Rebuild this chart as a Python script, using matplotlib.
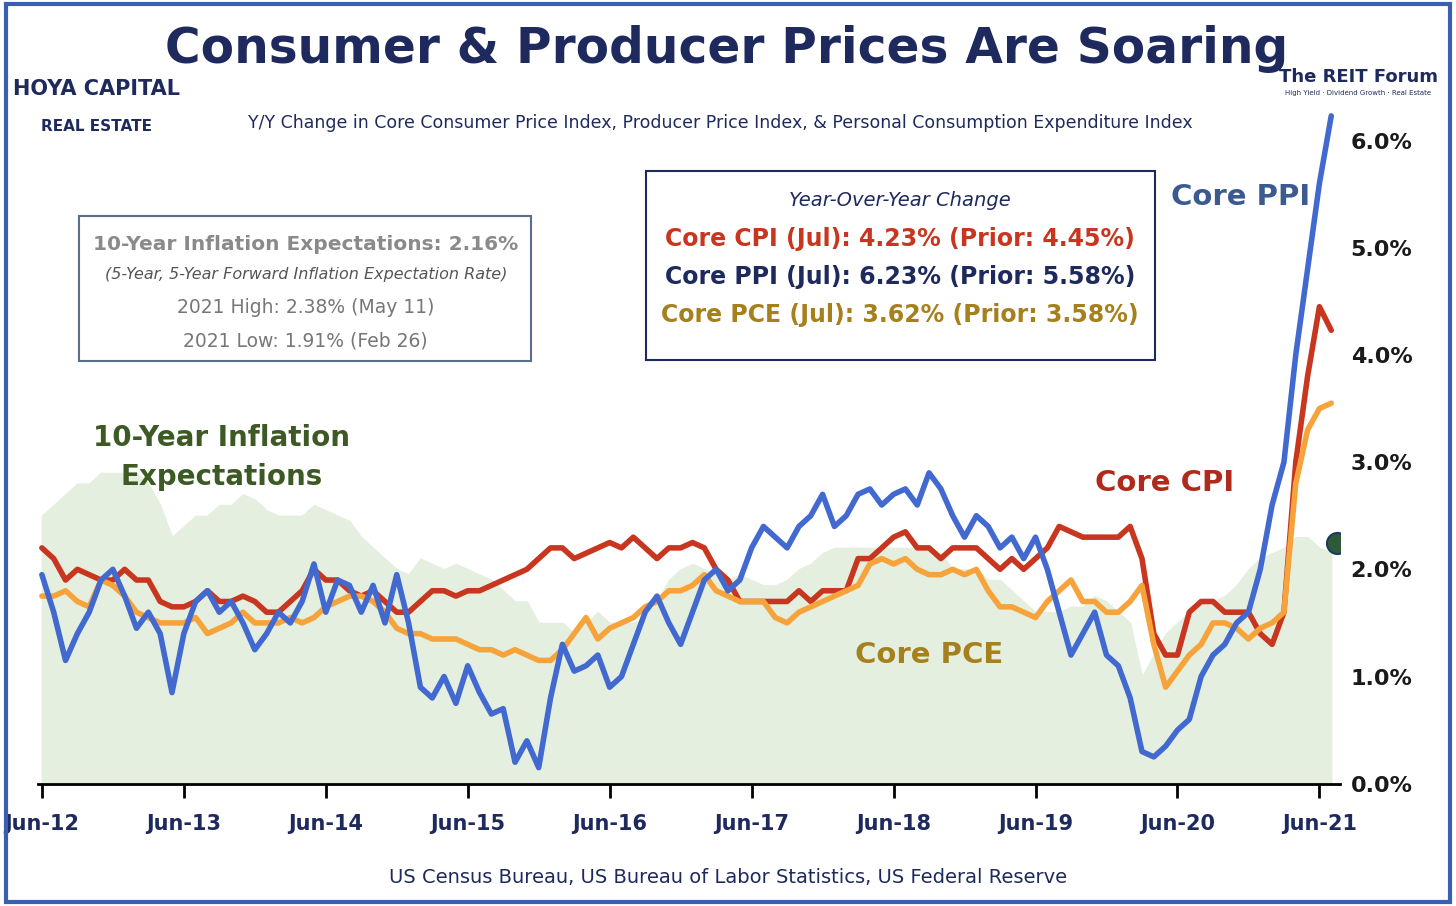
import numpy as np
import matplotlib.pyplot as plt
from matplotlib.patches import Rectangle

plt.rcParams['font.family'] = ['Liberation Sans Narrow', 'DejaVu Sans']

# monthly, Jun-12 .. Jul-21
core_ppi = [1.95, 1.6, 1.15, 1.4, 1.6, 1.9, 2.0, 1.75, 1.45, 1.6, 1.4, 0.85,
            1.4, 1.7, 1.8, 1.6, 1.7, 1.5, 1.25, 1.4, 1.6, 1.5, 1.7, 2.05,
            1.6, 1.9, 1.85, 1.6, 1.85, 1.5, 1.95, 1.5, 0.9, 0.8, 1.0, 0.75,
            1.1, 0.85, 0.65, 0.7, 0.2, 0.4, 0.15, 0.8, 1.3, 1.05, 1.1, 1.2,
            0.9, 1.0, 1.3, 1.6, 1.75, 1.5, 1.3, 1.6, 1.9, 2.0, 1.8, 1.9,
            2.2, 2.4, 2.3, 2.2, 2.4, 2.5, 2.7, 2.4, 2.5, 2.7, 2.75, 2.6,
            2.7, 2.75, 2.6, 2.9, 2.75, 2.5, 2.3, 2.5, 2.4, 2.2, 2.3, 2.1,
            2.3, 2.0, 1.6, 1.2, 1.4, 1.6, 1.2, 1.1, 0.8, 0.3, 0.25, 0.35,
            0.5, 0.6, 1.0, 1.2, 1.3, 1.5, 1.6, 2.0, 2.6, 3.0, 4.0, 4.8,
            5.6, 6.23]
core_cpi = [2.2, 2.1, 1.9, 2.0, 1.95, 1.9, 1.9, 2.0, 1.9, 1.9, 1.7, 1.65,
            1.65, 1.7, 1.8, 1.7, 1.7, 1.75, 1.7, 1.6, 1.6, 1.7, 1.8, 2.0,
            1.9, 1.9, 1.8, 1.75, 1.8, 1.7, 1.6, 1.6, 1.7, 1.8, 1.8, 1.75,
            1.8, 1.8, 1.85, 1.9, 1.95, 2.0, 2.1, 2.2, 2.2, 2.1, 2.15, 2.2,
            2.25, 2.2, 2.3, 2.2, 2.1, 2.2, 2.2, 2.25, 2.2, 2.0, 1.9, 1.7,
            1.7, 1.7, 1.7, 1.7, 1.8, 1.7, 1.8, 1.8, 1.8, 2.1, 2.1, 2.2,
            2.3, 2.35, 2.2, 2.2, 2.1, 2.2, 2.2, 2.2, 2.1, 2.0, 2.1, 2.0,
            2.1, 2.2, 2.4, 2.35, 2.3, 2.3, 2.3, 2.3, 2.4, 2.1, 1.4, 1.2,
            1.2, 1.6, 1.7, 1.7, 1.6, 1.6, 1.6, 1.4, 1.3, 1.6, 3.0, 3.8,
            4.45, 4.23]
core_pce = [1.75, 1.75, 1.8, 1.7, 1.65, 1.9, 1.85, 1.75, 1.6, 1.55, 1.5, 1.5,
            1.5, 1.55, 1.4, 1.45, 1.5, 1.6, 1.5, 1.5, 1.5, 1.55, 1.5, 1.55,
            1.65, 1.7, 1.75, 1.75, 1.7, 1.6, 1.45, 1.4, 1.4, 1.35, 1.35, 1.35,
            1.3, 1.25, 1.25, 1.2, 1.25, 1.2, 1.15, 1.15, 1.25, 1.4, 1.55, 1.35,
            1.45, 1.5, 1.55, 1.65, 1.7, 1.8, 1.8, 1.85, 1.95, 1.8, 1.75, 1.7,
            1.7, 1.7, 1.55, 1.5, 1.6, 1.65, 1.7, 1.75, 1.8, 1.85, 2.05, 2.1,
            2.05, 2.1, 2.0, 1.95, 1.95, 2.0, 1.95, 2.0, 1.8, 1.65, 1.65, 1.6,
            1.55, 1.7, 1.8, 1.9, 1.7, 1.7, 1.6, 1.6, 1.7, 1.85, 1.3, 0.9,
            1.05, 1.2, 1.3, 1.5, 1.5, 1.45, 1.35, 1.45, 1.5, 1.6, 2.8, 3.3,
            3.5, 3.55]
infl_exp = [2.5, 2.6, 2.7, 2.8, 2.8, 2.9, 2.9, 2.9, 2.9, 2.8, 2.6, 2.3,
            2.4, 2.5, 2.5, 2.6, 2.6, 2.7, 2.65, 2.55, 2.5, 2.5, 2.5, 2.6,
            2.55, 2.5, 2.45, 2.3, 2.2, 2.1, 2.0, 1.95, 2.1, 2.05, 2.0, 2.05,
            2.0, 1.95, 1.9, 1.8, 1.7, 1.7, 1.5, 1.5, 1.5, 1.4, 1.5, 1.6,
            1.5, 1.5, 1.5, 1.55, 1.7, 1.9, 2.0, 2.05, 2.0, 1.95, 1.9, 1.95,
            1.9, 1.85, 1.85, 1.9, 2.0, 2.05, 2.15, 2.2, 2.2, 2.2, 2.2, 2.2,
            2.2, 2.2, 2.2, 2.2, 2.15, 2.0, 2.0, 2.0, 1.9, 1.9, 1.8, 1.7,
            1.6, 1.6, 1.6, 1.65, 1.65, 1.75, 1.7, 1.6, 1.5, 1.0, 1.2, 1.4,
            1.5, 1.6, 1.7, 1.7, 1.75, 1.85, 2.0, 2.1, 2.15, 2.2, 2.3, 2.3,
            2.2, 2.16]
latest_exp = 2.25
tick_labels = ['Jun-12', 'Jun-13', 'Jun-14', 'Jun-15', 'Jun-16',
               'Jun-17', 'Jun-18', 'Jun-19', 'Jun-20', 'Jun-21']

BLUE, RED, ORANGE = '#4169cf', '#c8361f', '#f6a33c'
NAVY = '#1e2a5e'

fig = plt.figure(figsize=(14.56, 9.06), dpi=100)
fig.patches.append(Rectangle((0.004, 0.004), 0.992, 0.992, transform=fig.transFigure,
                             fill=False, edgecolor='#3a5fb0', lw=3))
ax = fig.add_axes([0.026, 0.135, 0.894, 0.769])
x = np.arange(len(core_ppi))
ax.fill_between(np.arange(len(infl_exp)), infl_exp, color='#e4efe0', zorder=1)
kw = dict(lw=4, zorder=3, solid_joinstyle='round', solid_capstyle='round')
ax.plot(x, core_cpi, color=RED, **kw)
ax.plot(x, core_pce, color=ORANGE, **kw)
ax.plot(x, core_ppi, color=BLUE, **kw)
ax.scatter([len(x) - 0.5], [latest_exp], s=230, color='#2f5a3a', edgecolor='#1a3a60', lw=1.5, zorder=5)

ax.set_xlim(-0.34, 109.7)
ax.set_ylim(0, 6.5)
ax.set_xticks(np.arange(len(tick_labels)) * 12)
ax.set_xticklabels(tick_labels, fontsize=15, fontweight='bold', color=NAVY)
ax.yaxis.tick_right()
ax.set_yticks(np.arange(0, 7))
ax.set_yticklabels([f'{v:.1f}%' for v in range(7)], fontsize=16, fontweight='bold', color='#1a1a1a')
ax.tick_params(axis='y', length=0, pad=8)
ax.tick_params(axis='x', length=10, width=2, pad=12)
for s in ['top', 'left', 'right']:
    ax.spines[s].set_visible(False)
ax.spines['bottom'].set_linewidth(2)

fig.text(0.499, 0.93, 'Consumer & Producer Prices Are Soaring', ha='center', fontsize=35,
         fontweight='bold', color=NAVY)
fig.text(0.495, 0.859, 'Y/Y Change in Core Consumer Price Index, Producer Price Index, & Personal Consumption Expenditure Index',
         ha='center', fontsize=12.5, color=NAVY)
fig.text(0.5, 0.025, 'US Census Bureau, US Bureau of Labor Statistics, US Federal Reserve',
         ha='center', fontsize=14, color=NAVY)
fig.text(0.066, 0.895, 'HOYA CAPITAL', ha='center', fontsize=15, fontweight='bold', color=NAVY)
fig.text(0.066, 0.855, 'REAL ESTATE', ha='center', fontsize=11, fontweight='bold', color=NAVY)
fig.text(0.933, 0.91, 'The REIT Forum', ha='center', fontsize=13, fontweight='bold', color=NAVY)
fig.text(0.933, 0.895, 'High Yield · Dividend Growth · Real Estate', ha='center', fontsize=5, color=NAVY)

# inflation expectation box
fig.patches.append(Rectangle((0.054, 0.602), 0.311, 0.16, transform=fig.transFigure,
                             fill=False, edgecolor='#5a6e8c', lw=1.5))
fig.text(0.21, 0.724, '10-Year Inflation Expectations: 2.16%', ha='center', fontsize=14.5, fontweight='bold', color='#8a8a8a')
fig.text(0.21, 0.692, '(5-Year, 5-Year Forward Inflation Expectation Rate)', ha='center', fontsize=11.5, style='italic', color='#555555')
fig.text(0.21, 0.655, '2021 High: 2.38% (May 11)', ha='center', fontsize=13.5, color='#777777')
fig.text(0.21, 0.617, '2021 Low: 1.91% (Feb 26)', ha='center', fontsize=13.5, color='#777777')

# yoy box
fig.patches.append(Rectangle((0.444, 0.603), 0.349, 0.208, transform=fig.transFigure,
                             fill=False, edgecolor='#1e2a5e', lw=1.5))
fig.text(0.618, 0.773, 'Year-Over-Year Change', ha='center', fontsize=14, style='italic', color=NAVY)
fig.text(0.618, 0.729, 'Core CPI (Jul): 4.23% (Prior: 4.45%)', ha='center', fontsize=17, fontweight='bold', color=RED)
fig.text(0.618, 0.687, 'Core PPI (Jul): 6.23% (Prior: 5.58%)', ha='center', fontsize=17, fontweight='bold', color=NAVY)
fig.text(0.618, 0.645, 'Core PCE (Jul): 3.62% (Prior: 3.58%)', ha='center', fontsize=17, fontweight='bold', color='#a6801c')

fig.text(0.852, 0.774, 'Core PPI', ha='center', fontsize=21, fontweight='bold', color='#3a5a90')
fig.text(0.8, 0.458, 'Core CPI', ha='center', fontsize=21, fontweight='bold', color='#b02a1c')
fig.text(0.638, 0.268, 'Core PCE', ha='center', fontsize=21, fontweight='bold', color='#a6801c')
fig.text(0.152, 0.465, '10-Year Inflation\nExpectations', ha='center', fontsize=20, fontweight='bold',
         color='#3d5a25', linespacing=1.5)

fig.savefig('out.png', dpi=100)
